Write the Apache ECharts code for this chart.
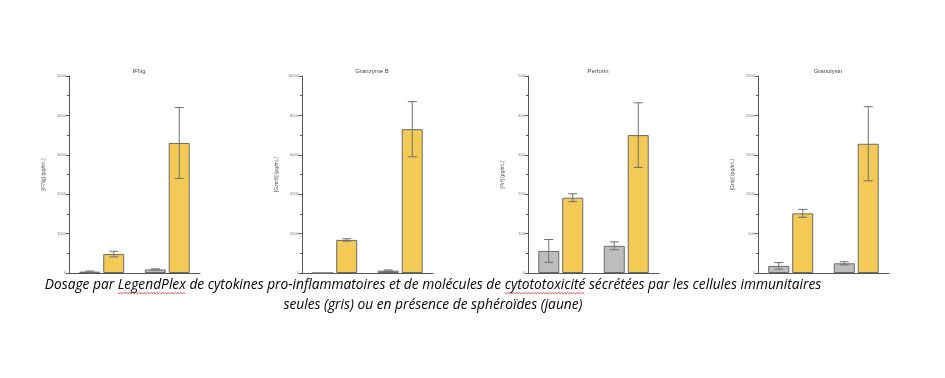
<!DOCTYPE html>
<html>
<head>
<meta charset="utf-8">
<script src="https://cdn.jsdelivr.net/npm/echarts@6/dist/echarts.min.js"></script>
<style>
  html, body { margin: 0; padding: 0; background: #fff; }
  #chart { width: 945px; height: 378px; }
</style>
</head>
<body>
<div id="chart"></div>
<script>
// données
const panelTitles = ['IFNg', 'Granzyme B', 'Perforin', 'Granulysin'];
const axisNames = ['[IFNg] (pg/mL)', '[GzmB] (pg/mL)', '[Prf] (pg/mL)', '[Gnly] (pg/mL)'];
const groups = ['1', '2'];
const yMax = [5000, 10000, 500, 2500];
const yStep = [1000, 2000, 100, 500];
const grayVals = [[35, 90], [0, 120], [56, 69], [90, 123]];
const grayErr = [[15, 15], [0, 35], [29, 10], [42, 20]];
const yellowVals = [[480, 3300], [1680, 7300], [191, 350], [757, 1640]];
const yellowErr = [[70, 900], [60, 1400], [10, 82], [50, 470]];
const caption1 = 'Dosage par LegendPlex de cytokines pro-inflammatoires et de molécules de cytototoxicité sécrétées par les cellules immunitaires';
const caption2 = 'seules (gris) ou en présence de sphéroïdes (jaune)';
const misspelled = ['LegendPlex', 'cytototoxicité'];

const gridLeft = [69, 302, 528, 758];
const grayColor = '#BDBDBD';
const yellowColor = '#F2CA55';
const barBorder = '#6b6b6b';
const errColor = '#707070';

let chart = echarts.init(document.getElementById('chart'));

function errItem(offset) {
  return function (params, api) {
    let x = api.value(0), v = api.value(1), e = api.value(2);
    if (!e) return null;
    let top = api.coord([x, v + e]);
    let bot = api.coord([x, v - e]);
    let cx = top[0] + offset, cap = 4.5;
    let st = { stroke: errColor, lineWidth: 1 };
    return {
      type: 'group',
      children: [
        { type: 'line', shape: { x1: cx, y1: top[1], x2: cx, y2: bot[1] }, style: st },
        { type: 'line', shape: { x1: cx - cap, y1: top[1], x2: cx + cap, y2: top[1] }, style: st },
        { type: 'line', shape: { x1: cx - cap, y1: bot[1], x2: cx + cap, y2: bot[1] }, style: st }
      ]
    };
  };
}

let grids = [], xAxes = [], yAxes = [], series = [], titles = [];
for (let i = 0; i < 4; i++) {
  grids.push({ left: gridLeft[i], top: 76, width: 131, height: 197 });
  titles.push({
    text: panelTitles[i],
    left: gridLeft[i] + 65, top: 63, textAlign: 'center',
    textStyle: { fontSize: 6, fontWeight: 'normal', color: '#444', fontFamily: 'Liberation Sans' }
  });
  xAxes.push({
    type: 'category', gridIndex: i, data: groups,
    axisLine: { lineStyle: { color: '#555', width: 1 } },
    axisTick: { show: false }, axisLabel: { show: false }
  });
  yAxes.push({
    type: 'value', gridIndex: i, min: 0, max: yMax[i], interval: yStep[i],
    name: axisNames[i], nameLocation: 'middle', nameGap: 23, nameRotate: 90,
    nameTextStyle: { fontSize: 5, color: '#555', fontFamily: 'Liberation Sans' },
    axisLine: { show: true, lineStyle: { color: '#555', width: 1 } },
    axisTick: { show: true, length: 3, lineStyle: { color: '#555' } },
    minorTick: { show: true, splitNumber: 2, length: 2, lineStyle: { color: '#555' } },
    splitLine: { show: false },
    axisLabel: { fontSize: 4, color: '#777', margin: 3, fontFamily: 'Liberation Sans', formatter: v => String(v) }
  });
  series.push({
    type: 'bar', xAxisIndex: i, yAxisIndex: i, data: grayVals[i],
    barWidth: 21, barGap: '14%',
    itemStyle: { color: grayColor, borderColor: barBorder, borderWidth: 1 }
  });
  series.push({
    type: 'bar', xAxisIndex: i, yAxisIndex: i, data: yellowVals[i],
    barWidth: 21, barGap: '14%',
    itemStyle: { color: yellowColor, borderColor: barBorder, borderWidth: 1 }
  });
  series.push({
    type: 'custom', xAxisIndex: i, yAxisIndex: i, z: 5,
    renderItem: errItem(-12),
    data: grayVals[i].map((v, k) => [k, v, grayErr[i][k]])
  });
  series.push({
    type: 'custom', xAxisIndex: i, yAxisIndex: i, z: 5,
    renderItem: errItem(12),
    data: yellowVals[i].map((v, k) => [k, v, yellowErr[i][k]])
  });
}

// légende en italique, ajustée à la largeur de la figure
const capFamily = '"Open Sans", "DejaVu Sans", sans-serif';
const capCenter = 433, capWidth = 777;
let ctx = document.createElement('canvas').getContext('2d');
ctx.font = 'italic 12px ' + capFamily;
let capSize = 12 * capWidth / ctx.measureText(caption1).width;
let capFont = 'italic ' + capSize.toFixed(2) + 'px ' + capFamily;
ctx.font = capFont;
let line1Left = capCenter - ctx.measureText(caption1).width / 2;

let graphics = [
  { type: 'text', x: capCenter, y: 285, style: { text: caption1, font: capFont, fill: '#000', align: 'center', verticalAlign: 'middle' } },
  { type: 'text', x: capCenter, y: 305, style: { text: caption2, font: capFont, fill: '#000', align: 'center', verticalAlign: 'middle' } }
];
// soulignement ondulé rouge du correcteur
misspelled.forEach(function (word) {
  let idx = caption1.indexOf(word);
  let x0 = line1Left + ctx.measureText(caption1.slice(0, idx)).width;
  let w = ctx.measureText(word).width;
  let pts = [];
  for (let k = 0; k * 1.5 <= w; k++) pts.push([x0 + k * 1.5, 292.5 + (k % 2 ? 1.2 : 0)]);
  graphics.push({ type: 'polyline', shape: { points: pts }, style: { stroke: '#e02020', lineWidth: 0.8, fill: null } });
});

chart.setOption({
  backgroundColor: '#fff',
  animation: false,
  title: titles,
  grid: grids,
  xAxis: xAxes,
  yAxis: yAxes,
  series: series,
  graphic: graphics
});
</script>
</body>
</html>
